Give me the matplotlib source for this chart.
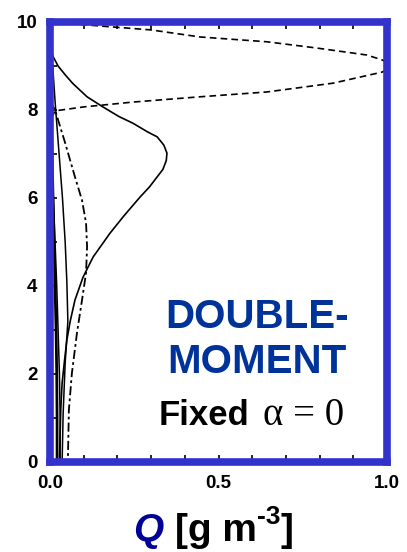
import matplotlib
matplotlib.use("Agg")
import matplotlib.pyplot as plt
from matplotlib.ticker import MultipleLocator, FormatStrFormatter

plt.rcParams["font.family"] = ["Liberation Sans", "DejaVu Sans"]

# height (km) / mixing ratio (g m-3) profiles
main_z = [9.4, 9.2, 9.0, 8.8, 8.6, 8.3, 8.07, 7.85, 7.7, 7.5, 7.39, 7.2, 7.02, 6.85,
          6.65, 6.48, 6.25, 6.02, 5.6, 5.2, 4.66, 4.2, 3.68, 3.2, 2.77, 2.3, 1.8, 1.2, 0.6, 0.0]
main_q = [0.0, 0.01, 0.024, 0.045, 0.068, 0.11, 0.157, 0.205, 0.246, 0.29, 0.318, 0.338,
          0.347, 0.345, 0.335, 0.318, 0.295, 0.267, 0.22, 0.178, 0.128, 0.098, 0.074, 0.06,
          0.050, 0.043, 0.036, 0.032, 0.030, 0.028]

upper_z = [10.1, 9.95, 9.82, 9.66, 9.55, 9.41, 9.25, 9.14, 9.0, 8.86, 8.61, 8.41, 8.30,
           8.18, 8.07, 7.98, 7.8, 0.0]
upper_q = [0.03, 0.08, 0.30, 0.445, 0.644, 0.79, 0.94, 0.985, 1.02, 0.985, 0.84, 0.644,
           0.445, 0.246, 0.10, 0.015, 0.003, 0.003]

dd_z = [8.2, 8.0, 7.25, 6.48, 5.95, 5.43, 4.89, 4.30, 3.68, 2.93, 2.02, 1.18, 0.0]
dd_q = [0.0, 0.015, 0.045, 0.074, 0.095, 0.107, 0.110, 0.107, 0.095, 0.080, 0.065, 0.056, 0.053]

thin_z = [9.4, 9.0, 8.2, 7.0, 6.0, 5.0, 4.1, 3.2, 2.25, 1.1, 0.0]
thin_q = [0.0, 0.008, 0.015, 0.027, 0.037, 0.045, 0.050, 0.053, 0.045, 0.039, 0.036]

low1_z = [9.0, 8.0, 7.0, 6.0, 5.0, 4.0, 3.0, 2.0, 1.0, 0.0]
low1_q = [0.0, 0.003, 0.006, 0.009, 0.012, 0.015, 0.018, 0.020, 0.021, 0.021]

low2_z = [7.5, 6.0, 4.0, 2.0, 1.0, 0.0]
low2_q = [0.0, 0.010, 0.020, 0.028, 0.030, 0.030]

fig = plt.figure(figsize=(4.07, 5.52), dpi=100)
ax = fig.add_axes([50 / 407, 90 / 552, 337 / 407, 440 / 552])

ax.plot(main_q, main_z, color="black", lw=1.2)
ax.plot(upper_q, upper_z, color="black", lw=1.2, ls=(0, (4, 2.5)))
ax.plot(dd_q, dd_z, color="black", lw=1.3, ls=(0, (5, 1.8, 1.5, 1.8)))
ax.plot(thin_q, thin_z, color="black", lw=1.1)
ax.plot(low1_q, low1_z, color="black", lw=2.0)
ax.plot(low2_q, low2_z, color="black", lw=1.1)

ax.set_xlim(0, 1)
ax.set_ylim(0, 10)
ax.xaxis.set_major_locator(MultipleLocator(0.5))
ax.xaxis.set_minor_locator(MultipleLocator(0.1))
ax.xaxis.set_major_formatter(FormatStrFormatter("%.1f"))
ax.yaxis.set_major_locator(MultipleLocator(2))
ax.yaxis.set_minor_locator(MultipleLocator(1))
ax.tick_params(which="both", direction="in", top=True, right=False,
               length=5, width=1.2, color="black")
ax.tick_params(which="major", labelsize=13.5, pad=9)
for lab in ax.get_xticklabels() + ax.get_yticklabels():
    lab.set_fontweight("bold")

for sp in ax.spines.values():
    sp.set_color("#3333cc")
    sp.set_linewidth(5.5)

ax.text(0.615, 0.33, "DOUBLE-", transform=ax.transAxes, ha="center", va="center",
        fontsize=29, fontweight="bold", color="#003399")
ax.text(0.615, 0.227, "MOMENT", transform=ax.transAxes, ha="center", va="center",
        fontsize=29, fontweight="bold", color="#003399")
ax.text(0.593, 0.105, "Fixed", transform=ax.transAxes, ha="right", va="center",
        fontsize=25, fontweight="bold", color="black")
ax.text(0.633, 0.105, "\u03b1 = 0", transform=ax.transAxes, ha="left", va="center",
        fontsize=28, color="black", family="Liberation Serif")

# axis title pieces laid out left to right
fig.canvas.draw()
rend = fig.canvas.get_renderer()
base = 1 - 541 / 552
x0 = 133 / 407
parts = [("Q", 28, 0.0, dict(fontstyle="italic", color="#000099"), 0.03),
         ("[g m", 28, 0.0, dict(color="black"), 0.0),
         ("-3", 19, 0.03, dict(color="black"), 0.0),
         ("]", 28, 0.0, dict(color="black"), 0.0)]
for s, fs, dy, kw, gap in parts:
    t = fig.text(x0, base + dy, s, ha="left", va="baseline", fontsize=fs,
                 fontweight="bold", **kw)
    bb = t.get_window_extent(rend)
    x0 = bb.x1 / fig.bbox.width + gap

fig.savefig("out.png", dpi=100)
